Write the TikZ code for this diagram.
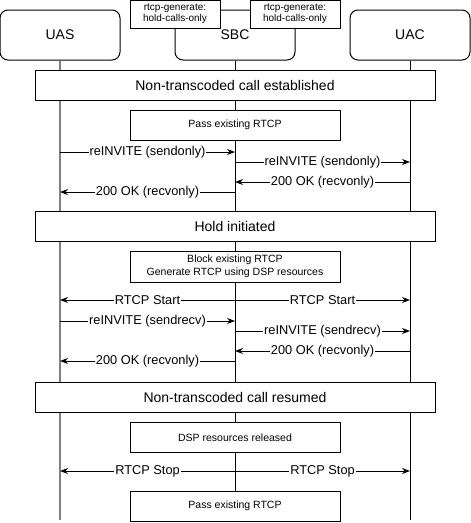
\documentclass[tikz,border=0pt]{standalone}
\usepackage{fontspec}
\setmainfont{Liberation Sans}
\usetikzlibrary{arrows.meta}

\tikzset{
  actor/.style={draw, rounded corners=8pt, minimum width=120pt, minimum height=50pt, font=\fontsize{14}{16}\selectfont},
  phase/.style={draw, fill=white, minimum width=400pt, minimum height=30pt, font=\fontsize{14}{16}\selectfont},
  note/.style={draw, fill=white, minimum width=210pt, minimum height=30pt, align=center, font=\fontsize{10.5}{12.5}\selectfont},
  cfg/.style={draw, fill=white, minimum width=90pt, minimum height=28pt, inner sep=1pt, align=center, font=\fontsize{10}{11}\selectfont},
  msg/.style={-{Stealth[length=8pt,width=6pt]}},
  lbl/.style={midway, fill=white, inner sep=1pt, font=\fontsize{12.8}{14}\selectfont},
}

\begin{document}
\begin{tikzpicture}[x=1pt, y=-1pt, line width=1pt]
    \useasboundingbox (0,0) rectangle (471,523);

    % actors
    \node[actor] (uas) at (60,35) {UAS};
    \node[actor] (sbc) at (235,35) {SBC};
    \node[actor] (uac) at (410,35) {UAC};

    % lifelines
    \coordinate (uasE) at (60,520);
    \coordinate (sbcE) at (235,520);
    \coordinate (uacE) at (410,520);
    \draw[gray, line width=1.3pt] (uas.south) -- (uasE);
    \draw (sbc.south) -- (sbcE);
    \draw (uac.south) -- (uacE);

    % config notes
    \node[cfg] (gen1) at (175,14) {rtcp-generate:\\hold-calls-only};
    \node[cfg] (gen2) at (295,14) {rtcp-generate:\\hold-calls-only};

    % call established
    \node[phase] (est) at (235,85) {Non-transcoded call established};
    \node[note] (pass1) at (235,125) {Pass existing RTCP};

    \coordinate (m1) at (0,152);
    \coordinate (m2) at (0,162);
    \coordinate (m3) at (0,182);
    \coordinate (m4) at (0,192);
    \draw[msg] (uas |- m1) -- (sbc |- m1) node[lbl] {reINVITE (sendonly)};
    \draw[msg] (sbc |- m2) -- (uac |- m2) node[lbl] {reINVITE (sendonly)};
    \draw[msg] (uac |- m3) -- (sbc |- m3) node[lbl] {200 OK (recvonly)};
    \draw[msg] (sbc |- m4) -- (uas |- m4) node[lbl] {200 OK (recvonly)};

    % hold
    \node[phase] (hold) at (235,226) {Hold initiated};
    \node[note, minimum height=31pt] (block) at (235,266.5) {Block existing RTCP\\Generate RTCP using DSP resources};

    \coordinate (m5) at (0,300);
    \draw[msg] (sbc |- m5) -- (uas |- m5) node[lbl] {RTCP Start};
    \draw[msg] (sbc |- m5) -- (uac |- m5) node[lbl] {RTCP Start};

    \coordinate (m6) at (0,321);
    \coordinate (m7) at (0,331);
    \coordinate (m8) at (0,351);
    \coordinate (m9) at (0,361);
    \draw[msg] (uas |- m6) -- (sbc |- m6) node[lbl] {reINVITE (sendrecv)};
    \draw[msg] (sbc |- m7) -- (uac |- m7) node[lbl] {reINVITE (sendrecv)};
    \draw[msg] (uac |- m8) -- (sbc |- m8) node[lbl] {200 OK (recvonly)};
    \draw[msg] (sbc |- m9) -- (uas |- m9) node[lbl] {200 OK (recvonly)};

    % resumed
    \node[phase] (res) at (235,397) {Non-transcoded call resumed};
    \node[note] (dsp) at (235,437.5) {DSP resources released};

    \coordinate (m10) at (0,471);
    \draw[msg] (sbc |- m10) -- (uas |- m10) node[lbl] {RTCP Stop};
    \draw[msg] (sbc |- m10) -- (uac |- m10) node[lbl] {RTCP Stop};

    \node[note] (pass2) at (235,506) {Pass existing RTCP};

\end{tikzpicture}
\end{document}
